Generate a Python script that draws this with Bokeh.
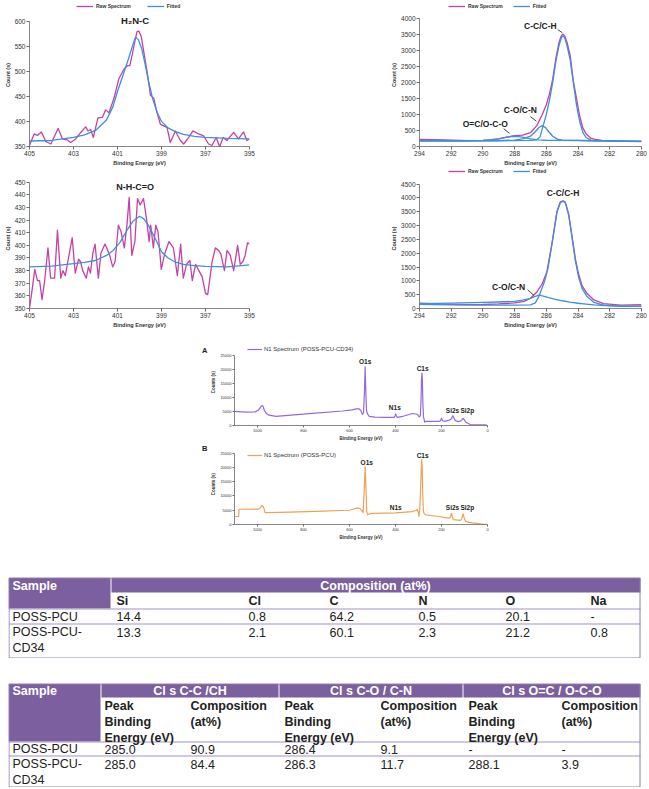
from bokeh.plotting import figure
from bokeh.models import Range1d, FixedTicker, Legend, LegendItem, Label, Spacer, LinearAxis
from bokeh.layouts import column, row
from bokeh.embed import file_html
from bokeh.resources import INLINE
from bokeh.core.properties import value

FONT = "Liberation Sans"
RAW = "#c441a8"
FIT = "#3f8fdc"
SURV_A = "#9468e2"
SURV_B = "#eea253"
PURPLE = "#7c5f9e"
ROWLINE = "#a493c4"
BORDER = "#8e7fb0"
TXT = "#222222"

legend_labels = ["Raw Spectrum", "Fitted"]

# ---------------- N1s POSS-PCU (H2N-C) ----------------
n1_raw_be = [405.0, 404.79, 404.64, 404.46, 404.26, 404.03, 403.70, 403.50, 403.28, 403.13,
             402.90, 402.67, 402.45, 402.34, 402.22, 402.10, 401.89, 401.69, 401.54, 401.39,
             401.16, 400.94, 400.71, 400.56, 400.44, 400.33, 400.23, 400.11, 400.03, 399.92,
             399.80, 399.65, 399.50, 399.35, 399.20, 399.05, 398.90, 398.75, 398.60, 398.37,
             398.14, 397.99, 397.76, 397.57, 397.31, 397.08, 396.86, 396.71, 396.51, 396.36,
             396.20, 396.03, 395.72, 395.50, 395.27, 395.12, 395.0]
n1_raw_cnt = [352, 375, 372, 379, 360, 355, 386, 365, 363, 358,
              365, 378, 389, 381, 384, 368, 407, 408, 423, 417,
              446, 485, 504, 511, 511, 533, 556, 579, 580, 569,
              537, 498, 452, 446, 417, 394, 391, 388, 358, 381,
              362, 355, 368, 381, 375, 371, 355, 352, 368, 349,
              368, 362, 378, 365, 379, 362, 365]
n1_fit_be = [405, 404, 403, 402.5, 402, 401.5, 401.2, 401, 400.75, 400.5, 400.3, 400.18, 400.05,
             399.9, 399.75, 399.6, 399.4, 399.2, 399, 398.7, 398.4, 398, 397.5, 397, 396, 395]
n1_fit_cnt = [361, 362, 368, 373, 382, 403, 430, 460, 492, 525, 553, 568, 563,
              545, 515, 482, 445, 418, 400, 387, 380, 374, 370, 368, 366, 365]

# ---------------- N1s POSS-PCU-CD34 (N-H-C=O) ----------------
n2_raw_be = [405.0, 404.88, 404.76, 404.64, 404.54, 404.43, 404.31, 404.16, 404.04, 403.86,
             403.73, 403.58, 403.48, 403.37, 403.25, 403.06, 402.92, 402.77, 402.68, 402.58,
             402.42, 402.32, 402.23, 402.12, 402.02, 401.87, 401.75, 401.57, 401.37, 401.22,
             401.11, 400.96, 400.84, 400.69, 400.57, 400.47, 400.35, 400.21, 400.09, 399.97,
             399.82, 399.68, 399.56, 399.49, 399.37, 399.26, 399.16, 399.01, 398.86, 398.66,
             398.46, 398.28, 398.13, 398.01, 397.86, 397.71, 397.60, 397.45, 397.30, 397.15,
             397.00, 396.90, 396.70, 396.55, 396.40, 396.30, 396.14, 396.02, 395.87, 395.72,
             395.54, 395.42, 395.30, 395.20, 395.09, 395.0]
n2_raw_cnt = [350, 365, 381, 372, 372, 357, 372, 398, 374, 374,
              412, 374, 380, 376, 388, 406, 378, 389, 387, 380,
              374, 383, 378, 394, 401, 374, 394, 401, 393, 383,
              387, 416, 411, 398, 416, 438, 392, 403, 437, 432,
              437, 421, 403, 416, 398, 416, 411, 381, 393, 403,
              398, 376, 401, 374, 385, 388, 372, 385, 380, 375,
              362, 361, 387, 398, 396, 393, 380, 396, 392, 380,
              400, 385, 387, 392, 402, 401]
n2_fit_be = [405, 404, 403, 402.5, 402, 401.5, 401.2, 400.9, 400.6, 400.3, 400.0,
             399.8, 399.6, 399.3, 399.0, 398.7, 398.4, 398.0, 397.5, 397, 396, 395]
n2_fit_cnt = [383, 383.6, 385.5, 386.5, 388, 392, 396, 402, 411, 419, 423,
              421, 416, 406, 395, 390, 387, 385, 384, 383.3, 383, 384.6]

# ---------------- C1s POSS-PCU ----------------
c1_raw_be = [294, 293, 292, 291, 290, 289.5, 289, 288.5, 288, 287.5, 287, 286.6, 286.3, 286.0,
             285.8, 285.6, 285.4, 285.2, 285.05, 284.95, 284.85, 284.7, 284.5, 284.3, 284.1,
             283.9, 283.7, 283.5, 283.2, 283.0, 282.5, 282, 281, 280]
c1_raw_cnt = [225, 210, 195, 185, 190, 205, 235, 290, 335, 355, 430, 650, 950, 1300,
              1650, 2100, 2750, 3250, 3460, 3500, 3450, 3250, 2850, 2050, 1500,
              950, 580, 400, 260, 230, 190, 175, 160, 150]
c1_cc_be = [294, 290, 288, 287, 286.6, 286.4, 286.2, 286.0, 285.8, 285.6, 285.4, 285.2, 285.05,
            284.95, 284.85, 284.7, 284.5, 284.3, 284.1, 283.9, 283.7, 283.5, 283.2, 283.0, 282, 280]
c1_cc_cnt = [190, 185, 185, 190, 210, 300, 650, 1000, 1450, 2000, 2650, 3150, 3400,
             3450, 3400, 3150, 2700, 2000, 1300, 780, 440, 280, 200, 185, 175, 160]
c1_co_be = [294, 291, 289, 288, 287.5, 287.0, 286.7, 286.45, 286.25, 286.05, 285.85, 285.6,
            285.3, 285.0, 284, 283, 282, 280]
c1_co_cnt = [170, 170, 180, 200, 240, 320, 460, 600, 650, 590, 460, 320, 230, 200, 190, 180, 170, 160]
c1_oc_be = [294, 292, 290, 289, 288.5, 288.1, 287.7, 287.3, 287.0, 286.5, 286.0, 285.0, 283.0, 280]
c1_oc_cnt = [175, 175, 190, 235, 290, 320, 310, 270, 235, 205, 195, 190, 180, 165]
c1_ann_text = ["C-C/C-H", "C-O/C-N", "O=C/O-C-O"]
c1_ann_be = [286.38, 287.64, 289.85]
c1_ann_cnt = [3747, 1134, 709]
c1_lead_be0 = [285.28, 287.01, 288.69]
c1_lead_cnt0 = [3645, 932, 557]
c1_lead_be1 = [284.99, 286.63, 288.32]
c1_lead_cnt1 = [3544, 790, 405]

# ---------------- C1s POSS-PCU-CD34 ----------------
c2_raw_be = [294, 293, 292, 291, 290, 289, 288, 287.4, 287.0, 286.6, 286.27, 285.96, 285.64,
             285.33, 285.12, 284.95, 284.8, 284.59, 284.38, 284.17, 283.96, 283.75, 283.43,
             283.0, 282.4, 281.3, 280]
c2_raw_cnt = [195, 170, 150, 140, 145, 165, 200, 255, 370, 600, 880, 1340, 2380,
              3520, 3860, 3900, 3840, 3410, 2610, 1800, 1230, 830, 540,
              310, 175, 120, 135]
c2_cc_be = [294, 292, 290, 288, 287, 286.7, 286.5, 286.3, 286.1, 285.9, 285.64, 285.33, 285.12,
            284.95, 284.8, 284.59, 284.38, 284.17, 283.96, 283.75, 283.43, 283.0, 282.4, 281.3, 280]
c2_cc_cnt = [150, 130, 120, 120, 130, 200, 400, 700, 1000, 1450, 2350, 3480, 3830,
             3880, 3820, 3380, 2560, 1720, 1120, 730, 430, 220, 120, 80, 80]
c2_co_be = [294, 292, 290, 289, 288, 287.5, 287, 286.7, 286.45, 286.2, 285.9, 285.5, 285,
            284.5, 284, 283.5, 283, 282, 281, 280]
c2_co_cnt = [175, 195, 220, 235, 260, 300, 370, 440, 480, 450, 400, 340, 280,
             230, 190, 160, 130, 100, 85, 80]
c2_ann_text = ["C-C/C-H", "C-O/C-N"]
c2_ann_be = [284.95, 288.38]
c2_ann_cnt = [4190, 792]
c2_lead_be0 = [287.18]
c2_lead_cnt0 = [677]
c2_lead_be1 = [286.8]
c2_lead_cnt1 = [482]

# ---------------- Survey spectra ----------------
sA_be = [1100, 1050, 1010, 995, 985, 980, 975, 970, 960, 950,
         920, 775, 630, 590, 570, 558, 550, 544, 539, 535,
         532, 529, 526, 522, 514, 490, 440, 406, 402, 399,
         396, 391, 370, 327, 305, 297, 292, 289, 287, 285,
         283, 281, 278, 273, 268, 212, 205, 200, 195, 188,
         165, 157, 151, 146, 140, 125, 113, 106, 99, 94,
         75, 40, 10, 0]
sA_cnt = [5100, 4800, 4900, 5600, 6800, 7200, 6800, 5400, 4200, 3700,
          3300, 4300, 5200, 5600, 6000, 6000, 5300, 4000, 4600, 12000,
          21100, 12000, 5500, 4200, 3300, 3000, 2900, 2900, 3400, 4200,
          3400, 2900, 3250, 4300, 4050, 3100, 3500, 9000, 16500, 18800,
          16000, 8000, 3000, 1200, 1500, 1500, 1700, 2550, 1700, 1500,
          1950, 2400, 3500, 2700, 1750, 1400, 1800, 2550, 1800, 1150,
          350, 200, 220, 0]
sB_be = [1100, 1082, 1080, 1000, 990, 984, 980, 976, 971, 967,
         900, 750, 600, 564, 552, 545, 541, 536, 532, 528,
         525, 521, 510, 499, 400, 327, 310, 305, 301, 298,
         294, 290, 288, 286, 284, 282, 279, 276, 269, 220,
         168, 162, 157, 152, 148, 118, 112, 106, 100, 96,
         68, 30, 0]
sB_cnt = [2800, 2800, 5350, 5400, 5600, 6300, 6700, 6300, 5400, 4150,
          4250, 4600, 5000, 5800, 5500, 4700, 4150, 12000, 20200, 12000,
          4500, 3400, 3800, 3900, 4100, 4500, 5000, 5250, 4200, 2800,
          6000, 14000, 20000, 22700, 20000, 12000, 5000, 3900, 3360, 2900,
          2240, 2500, 3900, 2500, 1680, 1460, 2000, 3700, 2000, 1120,
          560, 200, 0]
survey_names = ["N1 Spectrum (POSS-PCU-CD34)", "N1 Spectrum (POSS-PCU)"]
survey_panels = ["A", "B"]
survey_peaks = ["O1s", "C1s", "N1s", "Si2s", "Si2p"]
sA_lab_be = [532, 282, 403, 152, 88]
sA_lab_cnt = [23020, 20590, 6354, 5312, 5312]
sB_lab_be = [525, 282, 399, 152, 88]
sB_lab_cnt = [21740, 24090, 5950, 5950, 5950]

# ---------------- Tables ----------------
elements = ["Si", "Cl", "C", "N", "O", "Na"]
samples = ["POSS-PCU", "POSS-PCU-CD34"]
comp_poss_pcu = [14.4, 0.8, 64.2, 0.5, 20.1, None]
comp_poss_pcu_cd34 = [13.3, 2.1, 60.1, 2.3, 21.2, 0.8]
c1s_groups = ["Cl s C-C /CH", "Cl s C-O / C-N", "Cl s O=C / O-C-O"]
c1s_sub = ["Peak\nBinding\nEnergy (eV)", "Composition\n(at%)"]
c1s_poss_pcu = [285.0, 90.9, 286.4, 9.1, None, None]
c1s_poss_pcu_cd34 = [285.0, 84.4, 286.3, 11.7, 288.1, 3.9]


def fmt(v):
    return "-" if v is None else f"{v:.1f}"


def wrap(name):
    return name.replace("PCU-", "PCU-\n")


def spec_fig(w, h, xr, yr, ybounds, mb, xticks, yticks, tick_size="6.5px", label_size="5.5px",
             ylabel="Count (s)", tick_out=3):
    # the y range reaches above the top tick to leave room for the key; the axis stops at the top tick
    p = figure(width=w, height=h, x_range=Range1d(*xr), y_range=Range1d(*yr),
               output_backend="svg", toolbar_location=None,
               min_border_left=mb[0], min_border_right=mb[1],
               min_border_top=mb[2], min_border_bottom=mb[3])
    p.outline_line_color = None
    p.xgrid.visible = False
    p.ygrid.visible = False
    xa, ya = p.xaxis[0], p.yaxis[0]
    xa.ticker = FixedTicker(ticks=xticks, minor_ticks=[])
    ya.ticker = FixedTicker(ticks=yticks, minor_ticks=[])
    ya.bounds = ybounds
    xa.axis_label = "Binding Energy (eV)"
    ya.axis_label = ylabel
    for ax in (xa, ya):
        ax.axis_line_color = "#6a6a6a"
        ax.axis_line_width = 0.8
        ax.major_tick_line_color = "#6a6a6a"
        ax.major_tick_out = tick_out
        ax.major_tick_in = 0
        ax.minor_tick_line_color = None
        ax.major_label_text_font = FONT
        ax.major_label_text_font_size = tick_size
        ax.major_label_text_color = "#333333"
        ax.major_label_standoff = 1
        ax.axis_label_text_font = FONT
        ax.axis_label_text_font_size = label_size
        ax.axis_label_text_font_style = "bold"
        ax.axis_label_text_color = "#333333"
        ax.axis_label_standoff = 1
    return p


def add_legend(p, items, vx, vy, size="5px", bold=True, gw=17, spacing=16, standoff=3):
    p.add_layout(Legend(items=[LegendItem(label=l, renderers=[r]) for l, r in items],
                        location=(vx, vy), orientation="horizontal",
                        glyph_width=gw, glyph_height=6, label_width=1, label_height=6,
                        label_standoff=standoff, spacing=spacing, padding=0, margin=0,
                        border_line_color=None, background_fill_alpha=0,
                        label_text_font=FONT, label_text_font_size=size,
                        label_text_font_style="bold" if bold else "normal",
                        label_text_color="#333333", label_text_baseline="middle"))


def add_labels(p, texts, xs, ys, size, bold=True, color="#222222"):
    for t, x, y in zip(texts, xs, ys):
        p.add_layout(Label(x=x, y=y, text=t, text_font=FONT, text_font_size=size,
                           text_font_style="bold" if bold else "normal",
                           text_color=color, text_align="center", text_baseline="middle"))


def panel_letter(p, letter, at):
    ax = LinearAxis(ticker=FixedTicker(ticks=[at], minor_ticks=[]),
                    major_label_overrides={at: letter},
                    axis_line_color=None, major_tick_line_color=None, minor_tick_line_color=None,
                    major_tick_out=0, major_label_standoff=1,
                    major_label_text_font=FONT, major_label_text_font_size="7.5px",
                    major_label_text_font_style="bold", major_label_text_color="#222222")
    p.add_layout(ax, "left")


def pixel_fig(w, h):
    p = figure(width=w, height=h, x_range=Range1d(0, w), y_range=Range1d(h, 0),
               output_backend="svg", toolbar_location=None, min_border=0,
               x_axis_type=None, y_axis_type=None)
    p.outline_line_color = None
    return p


def put_text(p, xs, ys, texts, color, bold, align="left", baseline="middle", size="12.5px"):
    p.text(x=xs, y=ys, text=texts, text_color=color, text_font=value(FONT),
           text_font_size=value(size), text_font_style="bold" if bold else "normal",
           text_align=align, text_baseline=baseline, text_line_height=1.15)


# ---- Fig 1: N1s POSS-PCU ----
f1 = spec_fig(257, 168, (405, 395), (350, 635), (350, 600), (29, 8, 3, 19),
              [405, 403, 401, 399, 397, 395], [350, 400, 450, 500, 550, 600])
r1 = f1.line(n1_raw_be, n1_raw_cnt, line_color=RAW, line_width=1.3, line_join="round")
r1f = f1.line(n1_fit_be, n1_fit_cnt, line_color=FIT, line_width=1.3, line_join="round")
add_legend(f1, list(zip(legend_labels, [r1, r1f])), 47, 137, spacing=16)
add_labels(f1, ["H₂N-C"], [400.2], [602], "9.5px")

# ---- Fig 2: C1s POSS-PCU ----
f2 = spec_fig(289, 168, (294, 280), (0, 4458), (0, 4000), (59, 8, 3, 19),
              list(range(294, 279, -2)), list(range(0, 4001, 500)))
r2 = f2.line(c1_raw_be, c1_raw_cnt, line_color=RAW, line_width=1.3, line_join="round")
r2a = f2.line(c1_cc_be, c1_cc_cnt, line_color=FIT, line_width=1.3, line_join="round")
f2.line(c1_co_be, c1_co_cnt, line_color=FIT, line_width=1.3, line_join="round")
f2.line(c1_oc_be, c1_oc_cnt, line_color=FIT, line_width=1.3, line_join="round")
f2.segment(c1_lead_be0, c1_lead_cnt0, c1_lead_be1, c1_lead_cnt1, line_color="#333333", line_width=0.9)
add_legend(f2, list(zip(legend_labels, [r2, r2a])), 29, 137.5, spacing=10)
add_labels(f2, c1_ann_text, c1_ann_be, c1_ann_cnt, "8.5px")

# ---- Fig 3: N1s POSS-PCU-CD34 ----
f3 = spec_fig(257, 162, (405, 395), (350, 460.85), (350, 450), (29, 8, 0, 19),
              [405, 403, 401, 399, 397, 395], list(range(350, 451, 10)))
f3.line(n2_raw_be, n2_raw_cnt, line_color=RAW, line_width=1.3, line_join="round")
f3.line(n2_fit_be, n2_fit_cnt, line_color=FIT, line_width=1.3, line_join="round")
add_labels(f3, ["N-H-C=O"], [400.2], [446], "9px")

# ---- Fig 4: C1s POSS-PCU-CD34 ----
f4 = spec_fig(289, 162, (294, 280), (0, 5067), (0, 4500), (59, 8, 0, 19),
              list(range(294, 279, -2)), list(range(0, 4501, 500)))
r4 = f4.line(c2_raw_be, c2_raw_cnt, line_color=RAW, line_width=1.3, line_join="round")
r4a = f4.line(c2_cc_be, c2_cc_cnt, line_color=FIT, line_width=1.3, line_join="round")
f4.line(c2_co_be, c2_co_cnt, line_color=FIT, line_width=1.3, line_join="round")
f4.segment(c2_lead_be0, c2_lead_cnt0, c2_lead_be1, c2_lead_cnt1, line_color="#333333", line_width=0.9)
add_legend(f4, list(zip(legend_labels, [r4, r4a])), 29, 134.5, spacing=10)
add_labels(f4, c2_ann_text, c2_ann_be, c2_ann_cnt, "8.5px")

# ---- Survey A ----
fA = spec_fig(293, 113, (1100, 0), (0, 31250), (0, 25000), (33, 5, 8, 15),
              [1000, 800, 600, 400, 200, 0], list(range(0, 25001, 5000)),
              tick_size="4px", label_size="4.5px", ylabel="Counts (s)", tick_out=2)
rA = fA.line(sA_be, sA_cnt, line_color=SURV_A, line_width=1.2, line_join="round")
add_legend(fA, [(survey_names[0], rA)], 13, 73, size="6px", bold=False, gw=15, standoff=2)
add_labels(fA, survey_peaks, sA_lab_be, sA_lab_cnt, "6.5px")
panel_letter(fA, survey_panels[0], 27083)

# ---- Survey B ----
fB = spec_fig(293, 99, (1100, 0), (0, 28378), (0, 25000), (33, 5, 0, 15),
              [1000, 800, 600, 400, 200, 0], list(range(0, 25001, 5000)),
              tick_size="4px", label_size="4.5px", ylabel="Counts (s)", tick_out=2)
rB = fB.line(sB_be, sB_cnt, line_color=SURV_B, line_width=1.2, line_join="round")
add_legend(fB, [(survey_names[1], rB)], 13, 66, size="6px", bold=False, gw=15, standoff=2)
add_labels(fB, survey_peaks, sB_lab_be, sB_lab_cnt, "6.5px")
panel_letter(fB, survey_panels[1], 27027)

# ---------------- table 1 ----------------
col1_x = [108, 240, 321, 410, 497, 582]
t1 = pixel_fig(633, 81)
t1.quad(left=[0, 103], right=[102, 632], top=[0, 0], bottom=[31, 15], fill_color=PURPLE, line_color=None)
t1.segment(x0=[0, 0], y0=[31.5, 46.5], x1=[632, 632], y1=[31.5, 46.5], line_color=ROWLINE, line_width=1.2)
t1.quad(left=[0.5], right=[631.5], top=[0.5], bottom=[80.5], fill_alpha=0, line_color=BORDER, line_width=1)
put_text(t1, [4], [8], ["Sample"], "white", True)
put_text(t1, [367], [8], ["Composition (at%)"], "white", True, align="center")
put_text(t1, col1_x, [23.5] * 6, elements, TXT, True)
put_text(t1, [4], [39], [samples[0]], TXT, False)
put_text(t1, [4], [47.5], [wrap(samples[1])], TXT, False, baseline="top")
put_text(t1, col1_x, [39] * 6, [fmt(v) for v in comp_poss_pcu], TXT, False)
put_text(t1, col1_x, [54.5] * 6, [fmt(v) for v in comp_poss_pcu_cd34], TXT, False)

# ---------------- table 2 ----------------
col2_x = [96, 182, 276, 372, 460, 553]
t2 = pixel_fig(633, 104)
t2.quad(left=[0, 93, 271, 455], right=[92, 270, 454, 632], top=[0, 0, 0, 0], bottom=[58, 14, 14, 14],
        fill_color=PURPLE, line_color=None)
t2.segment(x0=[0, 0], y0=[58.5, 72.5], x1=[632, 632], y1=[58.5, 72.5], line_color=ROWLINE, line_width=1.2)
t2.quad(left=[0.5], right=[631.5], top=[0.5], bottom=[103.5], fill_alpha=0, line_color=BORDER, line_width=1)
put_text(t2, [4], [7.5], ["Sample"], "white", True)
put_text(t2, [181.5, 362.5, 543.5], [7.5] * 3, c1s_groups, "white", True, align="center")
put_text(t2, col2_x, [15] * 6, c1s_sub * 3, TXT, True, baseline="top")
put_text(t2, [4], [65.5], [samples[0]], TXT, False)
put_text(t2, [4], [73.5], [wrap(samples[1])], TXT, False, baseline="top")
put_text(t2, col2_x, [65.5] * 6, [fmt(v) for v in c1s_poss_pcu], TXT, False)
put_text(t2, col2_x, [80.5] * 6, [fmt(v) for v in c1s_poss_pcu_cd34], TXT, False)

layout = column(
    row(f1, Spacer(width=103, height=168), f2),
    row(f3, Spacer(width=103, height=162), f4),
    row(Spacer(width=199, height=113), fA),
    row(Spacer(width=199, height=99), fB),
    Spacer(width=633, height=35),
    row(Spacer(width=8, height=81), t1),
    Spacer(width=633, height=25),
    row(Spacer(width=8, height=104), t2),
)

open("out.html", "w").write(file_html(layout, INLINE))
